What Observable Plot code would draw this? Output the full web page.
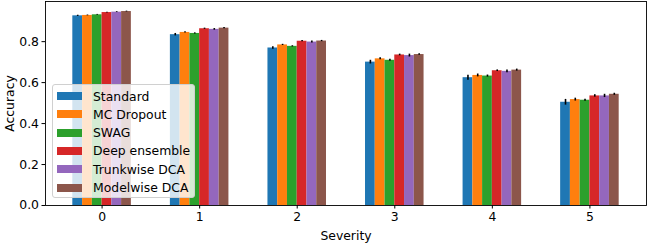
<!DOCTYPE html>
<html>
<head>
<meta charset="utf-8">
<script src="https://cdn.jsdelivr.net/npm/d3@7"></script>
<script src="https://cdn.jsdelivr.net/npm/@observablehq/plot@0.6"></script>
<style>
  html, body { margin: 0; padding: 0; background: #fff; }
  #wrap { position: relative; width: 648px; height: 243px; font-family: "DejaVu Sans", sans-serif; }
  #legend {
    position: absolute; left: 52px; top: 84px; width: 143px; height: 114px;
    background: rgba(255,255,255,0.8); border: 1px solid #d0d0d0; border-radius: 3px;
    box-sizing: border-box; font-size: 12.4px; color: #000;
  }
  .row { position: absolute; left: 4px; height: 18px; display: flex; align-items: center; }
  .sw { width: 25px; height: 8px; margin-right: 11px; }
</style>
</head>
<body>
<div id="wrap"><div id="chart"></div><div id="legend"></div></div>
<script>
const severities = [0, 1, 2, 3, 4, 5];
const methods = ["Standard", "MC Dropout", "SWAG", "Deep ensemble", "Trunkwise DCA", "Modelwise DCA"];
const colors = ["#1f77b4", "#ff7f0e", "#2ca02c", "#d62728", "#9467bd", "#8c564b"];
// mean accuracy per method, indexed by severity
const standard     = [0.926, 0.834, 0.769, 0.700, 0.624, 0.504];
const mcDropout    = [0.928, 0.845, 0.784, 0.716, 0.635, 0.517];
const swag         = [0.931, 0.840, 0.777, 0.709, 0.632, 0.514];
const deepEnsemble = [0.942, 0.863, 0.802, 0.735, 0.658, 0.535];
const trunkwiseDCA = [0.944, 0.860, 0.798, 0.732, 0.655, 0.535];
const modelwiseDCA = [0.947, 0.866, 0.803, 0.737, 0.661, 0.543];
// error (std) per method
const errStandard  = [0.003, 0.006, 0.006, 0.009, 0.012, 0.014];
const errMC        = [0.002, 0.003, 0.003, 0.005, 0.007, 0.007];
const errSWAG      = [0.002, 0.003, 0.003, 0.005, 0.005, 0.005];
const errDeep      = [0.002, 0.003, 0.003, 0.004, 0.004, 0.006];
const errTrunk     = [0.002, 0.004, 0.005, 0.007, 0.007, 0.008];
const errModel     = [0.002, 0.003, 0.003, 0.004, 0.005, 0.005];
const yTicks = [0.0, 0.2, 0.4, 0.6, 0.8];

const series = [standard, mcDropout, swag, deepEnsemble, trunkwiseDCA, modelwiseDCA];
const errs = [errStandard, errMC, errSWAG, errDeep, errTrunk, errModel];
const barW = 0.1;
const data = [];
methods.forEach((m, mi) => {
  severities.forEach((s, si) => {
    const c = s + (mi - (methods.length - 1) / 2) * barW;
    data.push({method: m, sev: s, x1: c - barW / 2, x2: c + barW / 2, xc: c,
               y: series[mi][si], lo: series[mi][si] - errs[mi][si], hi: series[mi][si] + errs[mi][si]});
  });
});

const chart = Plot.plot({
  width: 648, height: 243,
  marginLeft: 45, marginRight: 2, marginTop: 1, marginBottom: 38,
  style: {fontFamily: "DejaVu Sans, sans-serif", fontSize: "12.4px", color: "#000", background: "#fff"},
  x: {domain: [-0.58, 5.58], ticks: severities, tickFormat: d => String(d), tickSize: 3.5, tickPadding: 3,
      label: "Severity", labelAnchor: "center", labelArrow: "none", labelOffset: 34},
  y: {domain: [0, 0.996], ticks: yTicks, tickFormat: d => d.toFixed(1), tickSize: 3.5, tickPadding: 3,
      label: "Accuracy", labelAnchor: "center", labelArrow: "none", labelOffset: 40},
  color: {domain: methods, range: colors},
  marks: [
    Plot.rect(data, {x1: "x1", x2: "x2", y1: 0, y2: "y", fill: "method"}),
    Plot.ruleX(data, {x: "xc", y1: "lo", y2: "hi", stroke: "#000", strokeWidth: 1.6}),
    Plot.frame({stroke: "#000", strokeWidth: 0.9})
  ]
});
document.getElementById("chart").appendChild(chart);

const leg = document.getElementById("legend");
methods.forEach((m, i) => {
  const row = document.createElement("div");
  row.className = "row";
  row.style.top = (2 + i * 18.3) + "px";
  const sw = document.createElement("div");
  sw.className = "sw";
  sw.style.background = colors[i];
  const t = document.createElement("span");
  t.textContent = m;
  row.appendChild(sw); row.appendChild(t);
  leg.appendChild(row);
});
</script>
</body>
</html>
